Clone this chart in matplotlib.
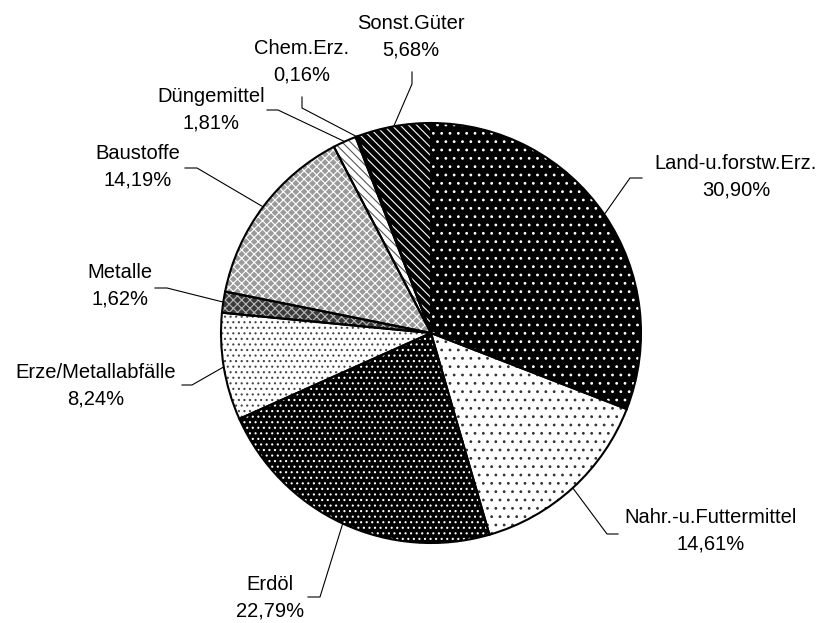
import numpy as np
import matplotlib.pyplot as plt

W, H = 827, 623

# Anteile der Güterabteilungen (%)
categories = ["Land-u.forstw.Erz.", "Nahr.-u.Futtermittel", "Erdöl", "Erze/Metallabfälle",
              "Metalle", "Baustoffe", "Düngemittel", "Chem.Erz.", "Sonst.Güter"]
shares = [30.90, 14.61, 22.79, 8.24, 1.62, 14.19, 1.81, 0.16, 5.68]

# black & white print look: fill, hatch colour, hatch
faces = ["black", "white", "black", "white", "#3a3a3a", "#9a9a9a", "white", "#555555", "black"]
hatch_cols = ["white", "#333333", "white", "#444444", "#bbbbbb", "white", "#555555", "white", "white"]
hatches = ["..", "..", "...", "...", "xxxx", "xxxx", "\\\\\\\\", "", "\\\\\\\\"]

# label block centres and leader elbows (pixels from top-left)
label_xy = [(736, 177), (711, 531), (270, 598), (96, 386), (120, 286),
            (138, 167), (211, 110), (302, 62), (411, 37)]
elbow_xy = [(630, 178), (607, 534), (320, 597), (192, 385), (167, 288),
            (197, 168), (278, 110), (302, 108), (412, 84)]
end_xy = [(642, 178), (618, 534), (308, 597), (182, 385), (155, 288),
          (185, 168), (267, 110), (302, 97), (412, 72)]

plt.rcParams['font.family'] = ['Liberation Sans', 'DejaVu Sans']
plt.rcParams['hatch.linewidth'] = 0.8

fig = plt.figure(figsize=(W / 100, H / 100), dpi=100)
ax = fig.add_axes([0, 0, 1, 1])

center = (431, H - 333)
radius = 210

# filled + hatched slices
wedges, _ = ax.pie(shares, startangle=90, counterclock=False, center=center, radius=radius,
                   colors=faces, wedgeprops=dict(linewidth=0))
for w, h, hc in zip(wedges, hatches, hatch_cols):
    w.set_hatch(h)
    w.set_edgecolor(hc)

# black outlines on top
ax.pie(shares, startangle=90, counterclock=False, center=center, radius=radius,
       wedgeprops=dict(fill=False, edgecolor='black', linewidth=1.5))

# leader lines from slice middle to label
for w, (ex, ey), (kx, ky) in zip(wedges, elbow_xy, end_xy):
    ang = np.deg2rad((w.theta1 + w.theta2) / 2)
    sx = center[0] + radius * np.cos(ang)
    sy = center[1] + radius * np.sin(ang)
    ax.plot([sx, ex, kx], [sy, H - ey, H - ky], color='black', lw=0.8, zorder=0)

for name, v, (lx, ly) in zip(categories, shares, label_xy):
    pct = f"{v:.2f}".replace('.', ',') + '%'
    ax.text(lx, H - ly, f"{name}\n{pct}", ha='center', va='center',
            fontsize=14.5, linespacing=1.5, color='black')

ax.set_xlim(0, W)
ax.set_ylim(0, H)
ax.axis('off')

fig.savefig('out.png', dpi=100)
